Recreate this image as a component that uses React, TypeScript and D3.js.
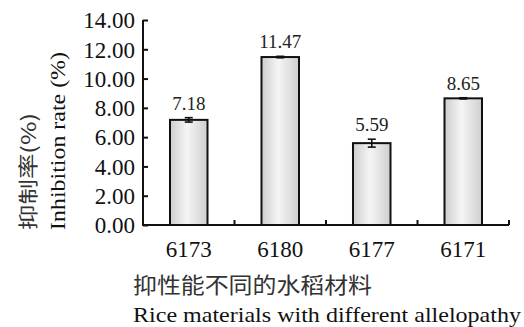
import React, { useEffect, useRef } from "react";
import * as d3 from "d3";

// chart data
const categories = ["6173", "6180", "6177", "6171"];
const values = [7.18, 11.47, 5.59, 8.65];
const errors = [0.15, 0.05, 0.27, 0.04];
const yTicks = [0, 2, 4, 6, 8, 10, 12, 14];
const yTitleCn = "抑制率(%)";
const yTitleEn = "Inhibition rate (%)";
const xTitleCn = "抑性能不同的水稻材料";
const xTitleEn = "Rice materials with different allelopathy";

const W = 524,
  H = 327;
const margin = { top: 20, right: 15, bottom: 102, left: 143 };
const serif = "Liberation Serif";
const cjk = "Noto Sans CJK SC";

export default function App() {
  const ref = useRef<SVGSVGElement>(null);

  useEffect(() => {
    const svg = d3.select(ref.current);
    svg.selectAll("*").remove();

    const x0 = margin.left,
      x1 = W - margin.right,
      y0 = H - margin.bottom,
      y1 = margin.top;

    const x = d3.scaleBand<string>().domain(categories).range([x0, x1]).paddingInner(0).paddingOuter(0);
    const y = d3.scaleLinear().domain([0, 14]).range([y0, y1]);

    // bar gradient
    const grad = svg
      .append("defs")
      .append("linearGradient")
      .attr("id", "barGrad")
      .attr("x1", "0%")
      .attr("x2", "100%")
      .attr("y1", "0%")
      .attr("y2", "0%");
    grad.append("stop").attr("offset", "0%").attr("stop-color", "#cdcdcd");
    grad.append("stop").attr("offset", "45%").attr("stop-color", "#f5f5f5");
    grad.append("stop").attr("offset", "100%").attr("stop-color", "#cfcfcf");

    const g = svg.append("g");
    const barW = x.bandwidth() * 0.41;

    // bars
    g.selectAll("rect.bar")
      .data(values)
      .join("rect")
      .attr("class", "bar")
      .attr("x", (d, i) => x(categories[i])! + x.bandwidth() / 2 - barW / 2)
      .attr("y", (d) => y(d))
      .attr("width", barW)
      .attr("height", (d) => y(0) - y(d))
      .attr("fill", "url(#barGrad)")
      .attr("stroke", "#111")
      .attr("stroke-width", 2);

    // error bars
    values.forEach((v, i) => {
      const cx = x(categories[i])! + x.bandwidth() / 2;
      const e = errors[i];
      const eg = g.append("g").attr("stroke", "#111").attr("stroke-width", 1.6);
      eg.append("line").attr("x1", cx).attr("x2", cx).attr("y1", y(v - e)).attr("y2", y(v + e));
      eg.append("line").attr("x1", cx - 4).attr("x2", cx + 4).attr("y1", y(v - e)).attr("y2", y(v - e));
      eg.append("line").attr("x1", cx - 4).attr("x2", cx + 4).attr("y1", y(v + e)).attr("y2", y(v + e));
    });

    // value labels
    g.selectAll("text.val")
      .data(values)
      .join("text")
      .attr("class", "val")
      .attr("x", (d, i) => x(categories[i])! + x.bandwidth() / 2)
      .attr("y", (d, i) => y(d + errors[i]) - 8)
      .attr("text-anchor", "middle")
      .attr("font-family", serif)
      .attr("font-size", 19)
      .attr("fill", "#222")
      .text((d) => d.toFixed(2));

    // y axis
    const yAxis = g
      .append("g")
      .attr("transform", `translate(${x0},0)`)
      .call(
        d3
          .axisLeft(y)
          .tickValues(yTicks)
          .tickSize(-5)
          .tickPadding(8)
          .tickFormat((d) => (d as number).toFixed(2))
      );
    yAxis.attr("font-family", serif).attr("font-size", 23);
    yAxis.select(".domain").attr("stroke", "#111").attr("stroke-width", 2).attr("d", `M0,${y1}V${y0}`);
    yAxis.selectAll(".tick line").attr("stroke", "#111").attr("stroke-width", 2);
    yAxis.selectAll(".tick text").attr("fill", "#111").attr("dy", "0.34em");

    // x axis with boundary ticks
    const xAxis = g.append("g").attr("transform", `translate(0,${y0})`);
    xAxis
      .append("line")
      .attr("x1", x0 - 1)
      .attr("x2", x1)
      .attr("stroke", "#111")
      .attr("stroke-width", 2);
    xAxis
      .selectAll("line.bt")
      .data(categories)
      .join("line")
      .attr("class", "bt")
      .attr("x1", (d) => x(d)! + x.bandwidth())
      .attr("x2", (d) => x(d)! + x.bandwidth())
      .attr("y1", 0)
      .attr("y2", -5)
      .attr("stroke", "#111")
      .attr("stroke-width", 2);
    xAxis
      .selectAll("text")
      .data(categories)
      .join("text")
      .attr("x", (d) => x(d)! + x.bandwidth() / 2)
      .attr("y", 32)
      .attr("text-anchor", "middle")
      .attr("font-family", serif)
      .attr("font-size", 23)
      .attr("fill", "#111")
      .text((d) => d);

    // axis titles
    svg
      .append("text")
      .attr("transform", `translate(36,230) rotate(-90)`)
      .attr("font-family", cjk)
      .attr("font-size", 20)
      .attr("fill", "#333")
      .attr("textLength", 117)
      .attr("lengthAdjust", "spacingAndGlyphs")
      .text(yTitleCn);
    svg
      .append("text")
      .attr("transform", `translate(65,230) rotate(-90)`)
      .attr("font-family", serif)
      .attr("font-size", 22)
      .attr("fill", "#111")
      .attr("textLength", 178)
      .attr("lengthAdjust", "spacingAndGlyphs")
      .text(yTitleEn);
    svg
      .append("text")
      .attr("x", 133)
      .attr("y", 293)
      .attr("font-family", cjk)
      .attr("font-size", 22)
      .attr("fill", "#333")
      .attr("textLength", 239)
      .attr("lengthAdjust", "spacingAndGlyphs")
      .text(xTitleCn);
    svg
      .append("text")
      .attr("x", 133)
      .attr("y", 322)
      .attr("font-family", serif)
      .attr("font-size", 22)
      .attr("fill", "#111")
      .attr("textLength", 388)
      .attr("lengthAdjust", "spacingAndGlyphs")
      .text(xTitleEn);
  }, []);

  return (
    <svg
      ref={ref}
      width={W}
      height={H}
      style={{ position: "absolute", left: 0, top: 0, background: "#fff" }}
    />
  );
}
